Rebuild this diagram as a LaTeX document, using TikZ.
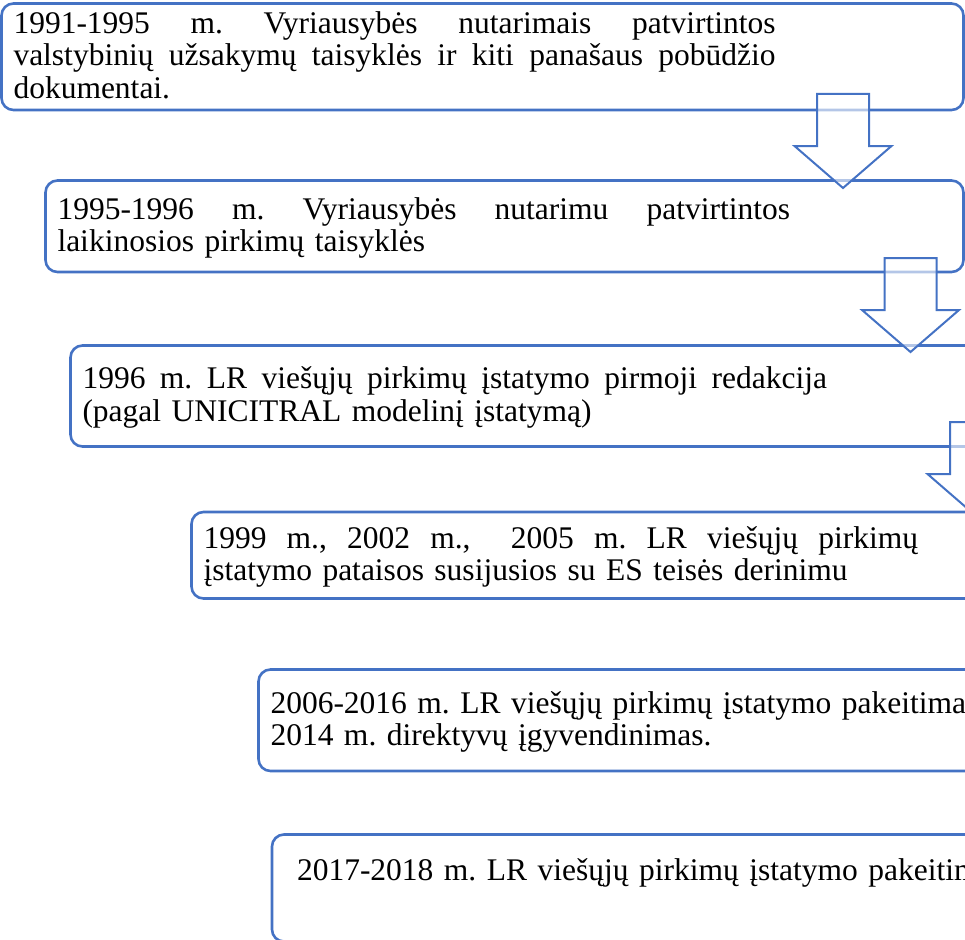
\documentclass[tikz,border=0pt]{standalone}
\usepackage{fontspec}
\setmainfont{Liberation Serif}
\definecolor{stageblue}{HTML}{4472C4}
\newcommand{\fullline}[2]{\makebox[#1][s]{\spaceskip=.3333em plus 1fil\relax#2}}
\tikzset{
	stage/.style={draw=stageblue,line width=2.6pt,rounded corners=12pt,fill=white,
		anchor=north west,outer sep=0pt,inner xsep=12pt,inner ysep=0pt,
		minimum width=918pt,text width=894pt,align=left,
		font=\fontsize{31.5}{32.5}\selectfont,
		execute at begin node={\frenchspacing\rule{0pt}{27.75pt}},
		execute at end node={\strut}},
	pics/blockarrow/.style={code={
		\draw[draw=stageblue,line width=2pt,fill=white,fill opacity=0.6]
			(-26,0) -- (26,0) -- (26,52) -- (48.5,52) -- (0,94) -- (-48.5,52) -- (-26,52) -- cycle;}}
}
\begin{document}
\begin{tikzpicture}[x=1pt,y=-1pt]
	\useasboundingbox (0,0) rectangle (965,939);
	\clip (0,0) rectangle (965,939);
	\node[stage,minimum width=962pt,text width=938pt,minimum height=106.5pt] (b1) at (1.5,3.5)
		{\fullline{762pt}{1991-1995 m. Vyriausybės nutarimais patvirtintos}\\
		\fullline{762pt}{valstybinių užsakymų taisyklės ir kiti panašaus pobūdžio}\\
		dokumentai.};
	\node[stage,minimum height=91.5pt] (b2) at (45.5,180.5)
		{\fullline{732.5pt}{1995-1996 m. Vyriausybės nutarimu patvirtintos}\\
		laikinosios pirkimų taisyklės};
	\node[stage,minimum height=101pt] (b3) at (70.5,345.5)
		{\fullline{744.5pt}{1996 m. LR viešųjų pirkimų įstatymo pirmoji redakcija}\\
		(pagal UNICITRAL modelinį įstatymą)};
	\node[stage,minimum height=86.5pt] (b4) at (191.5,512)
		{\fullline{714.5pt}{1999 m., 2002 m.,\ \ 2005 m. LR viešųjų pirkimų}\\
		įstatymo pataisos susijusios su ES teisės derinimu};
	\node[stage,minimum height=101.5pt] (b5) at (258.5,669.5)
		{2006-2016 m. LR viešųjų pirkimų įstatymo pakeitima\\
		2014 m. direktyvų įgyvendinimas.};
	\node[stage,minimum height=107pt] (b6) at (272,834.5)
		{\hspace*{13pt}2017-2018 m. LR viešųjų pirkimų įstatymo pakeitim\\};
	%
	\coordinate (a1) at (843,94);
	\coordinate (a2) at (910.5,258);
	\coordinate (a3) at (976,422);
	\pic at (a1) {blockarrow};
	\pic at (a2) {blockarrow};
	\pic at (a3) {blockarrow};
\end{tikzpicture}
\end{document}
